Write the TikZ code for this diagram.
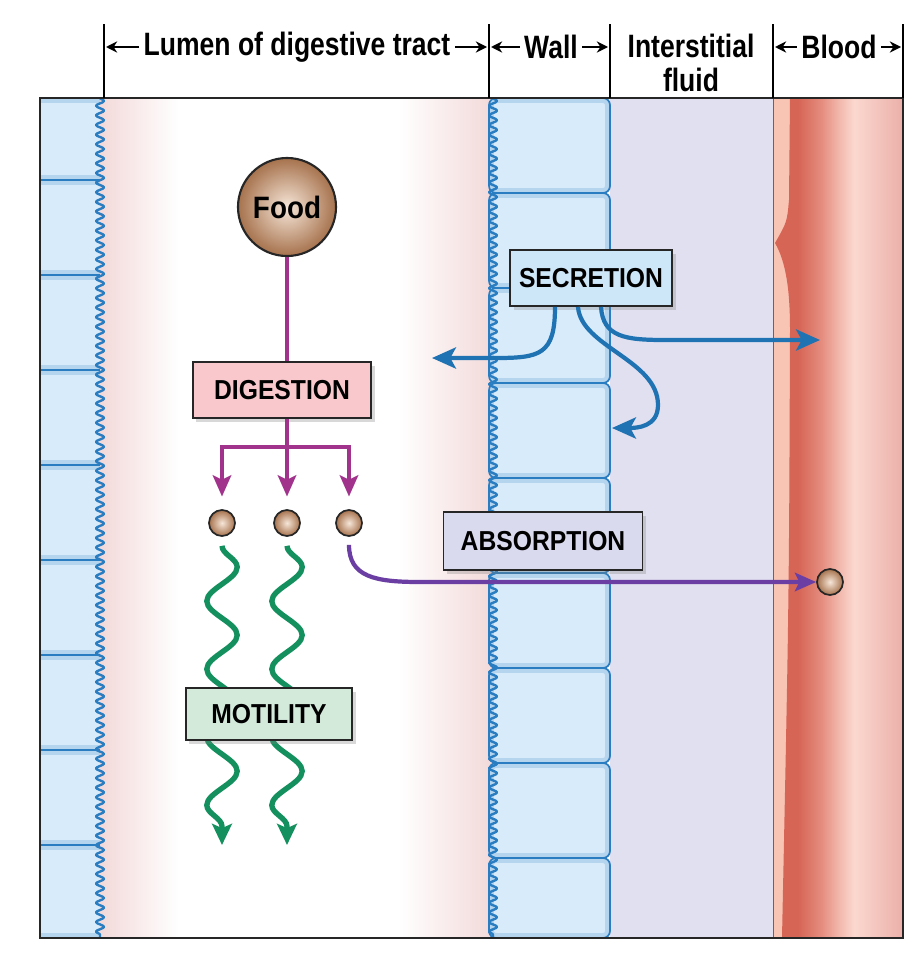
\documentclass[tikz,border=0pt]{standalone}
\usepackage{fontspec}
\setmainfont{Liberation Sans}[FakeStretch=0.9]
\newfontfamily\hdrfont{Liberation Sans}[FakeStretch=0.82]
\usepackage{xcolor}
\usepackage{tikz}
\usetikzlibrary{arrows.meta,calc,decorations.pathmorphing,shadows}
\definecolor{lumenpink}{HTML}{F3D9D9}
\definecolor{cellblue}{HTML}{D8EBFA}
\definecolor{celledge}{HTML}{2A7DC0}
\definecolor{fluidlav}{HTML}{E1E0F0}
\definecolor{bloodsalmon}{HTML}{F8C4B4}
\definecolor{blooddark}{HTML}{D66556}
\definecolor{bloodmid}{HTML}{E48C7E}
\definecolor{bloodpale}{HTML}{F2B8AD}
\definecolor{bloodlight}{HTML}{FBD8CF}
\definecolor{bloodrose}{HTML}{F5C9C1}
\definecolor{bloodright}{HTML}{EBB0A9}
\definecolor{digestpink}{HTML}{F8C8CC}
\definecolor{motilgreen}{HTML}{D3EADB}
\definecolor{absorblav}{HTML}{DADAEE}
\definecolor{secretblue}{HTML}{CDE6F8}
\definecolor{digestline}{HTML}{A2338D}
\definecolor{secretline}{HTML}{1F73B2}
\definecolor{motilline}{HTML}{14905E}
\definecolor{absorbline}{HTML}{6A3EA2}
\definecolor{foodbrown}{HTML}{A6724D}
\definecolor{foodlight}{HTML}{F6E6D8}
\pgfdeclarehorizontalshading{lumenshade}{100bp}{color(0bp)=(lumenpink); color(25bp)=(lumenpink); color(35bp)=(white); color(63bp)=(white); color(75bp)=(lumenpink); color(100bp)=(lumenpink)}
\pgfdeclarehorizontalshading{bloodshade}{100bp}{color(0bp)=(blooddark); color(34bp)=(blooddark); color(43bp)=(bloodmid); color(50bp)=(bloodpale); color(56bp)=(bloodlight); color(63bp)=(bloodrose); color(75bp)=(bloodright); color(100bp)=(bloodright)}

\begin{document}
\begin{tikzpicture}[x=0.025cm, y=-0.025cm,
  wavy/.style={draw=celledge, line width=1.7pt, line join=round, decorate, decoration={snake, segment length=0.24cm, amplitude=0.1cm}},
  cellglow/.style={celledge, line width=7pt, opacity=0.2},
  procbox/.style={draw=black!85, line width=1.3pt, inner sep=0pt, font=\bfseries\fontsize{19.5}{20}\selectfont, drop shadow={opacity=0.3, shadow xshift=2.5pt, shadow yshift=-2.5pt}},
  grain/.style={circle, draw=black!85, line width=1.2pt, minimum size=0.65cm, inner sep=0pt, inner color=foodlight, outer color=foodbrown},
  hdr/.style={font=\hdrfont\bfseries\fontsize{23}{24}\selectfont, inner sep=3pt},
  hdrarrow/.style={-{Stealth[length=8pt, width=8pt]}, line width=1.2pt},
  digestarrow/.style={digestline, line width=2.8pt, -{Stealth[length=15pt, width=13pt, inset=3pt]}, shorten >=9pt},
  secretarrow/.style={secretline, line width=3pt, -{Stealth[length=17pt, width=15pt, inset=4pt]}},
  absorbarrow/.style={absorbline, line width=3pt, -{Stealth[length=15pt, width=13pt, inset=3pt]}},
  motilwave/.style={motilline, line width=3.8pt, decorate, decoration={snake, segment length=1.7cm, amplitude=0.38cm, post length=0.35cm}, -{Stealth[length=15pt, width=14pt, inset=3pt]}}]
\useasboundingbox (0,0) rectangle (924,960);
% tissue bands
\shade[shading=lumenshade] (100,98) rectangle (493,938);
\fill[fluidlav] (610,98) rectangle (773,938);
\fill[bloodsalmon] (773,98) rectangle (903,938);
\shade[shading=bloodshade] (790,98) -- (789,200) .. controls (787,222) .. (775,243) .. controls (786,262) and (790,290) .. (790,330) .. controls (789,600) .. (782,938) -- (903,938) -- (903,98) -- cycle;
\draw[black!60, line width=0.5pt] (773,98) -- (773,938);
% epithelial cells
\fill[cellblue] (40,98) rectangle (100,938);
\foreach \top/\bot in {98/180,180/275,275/370,370/465,465/560,560/655,655/750,750/845,845/938} {
  \begin{scope}
    \clip (40,\top) rectangle (100,\bot);
    \draw[cellglow] (36,\top) rectangle (108,\bot);
  \end{scope}
}
\foreach \y in {180,275,...,845}
  \draw[celledge, line width=1.2pt] (40,\y) -- (100,\y);
\foreach \top/\bot in {98/193,193/288,288/383,383/478,478/573,573/668,668/763,763/858,858/938} {
  \fill[cellblue, rounded corners=5pt] (489,\top) rectangle (610,\bot);
  \begin{scope}
    \clip[rounded corners=5pt] (489,\top) rectangle (610,\bot);
    \draw[cellglow, rounded corners=5pt] (489,\top) rectangle (610,\bot);
  \end{scope}
  \draw[celledge, line width=1.2pt, rounded corners=5pt] (489,\top) rectangle (610,\bot);
}
\draw[wavy] (100,98) -- (100,938);
\draw[wavy] (493,98) -- (493,938);
% frame and header
\draw[line width=1.4pt, black!85] (40,98) rectangle (903,938);
\foreach \x in {104,489,610,773,903}
  \draw[line width=1.2pt] (\x,24) -- (\x,98);
\node[hdr] (hlumen) at (297,47) {Lumen of digestive tract};
\node[hdr] (hwall) at (551,47) {Wall};
\node[hdr, align=center] (hfluid) at (691,63) {Interstitial\\fluid};
\node[hdr] (hblood) at (839,47) {Blood};
\coordinate (lumL) at (106,47);
\coordinate (lumR) at (487,47);
\coordinate (wallL) at (491,47);
\coordinate (wallR) at (608,47);
\coordinate (bldL) at (775,47);
\coordinate (bldR) at (901,47);
\draw[hdrarrow] (hlumen) -- (lumL);
\draw[hdrarrow] (hlumen) -- (lumR);
\draw[hdrarrow] (hwall) -- (wallL);
\draw[hdrarrow] (hwall) -- (wallR);
\draw[hdrarrow] (hblood) -- (bldL);
\draw[hdrarrow] (hblood) -- (bldR);
% digestion
\node[circle, draw=black!85, line width=1.5pt, minimum size=2.45cm, inner color=foodlight, outer color=foodbrown, font=\bfseries\fontsize{22}{24}\selectfont] (food) at (287,207) {Food};
\node[procbox, fill=digestpink, minimum width=4.45cm, minimum height=1.4cm] (digest) at (282,390) {DIGESTION};
\node[grain] (g1) at (222,523) {};
\node[grain] (g2) at (287,523) {};
\node[grain] (g3) at (349,523) {};
\node[grain] (g4) at (830,582) {};
\coordinate (fork) at (287,447);
\draw[digestline, line width=2.8pt] (food) -- (food |- digest.north);
\draw[digestline, line width=2.8pt] (digest.south -| fork) -- (fork);
\draw[digestarrow] (fork) -| (g1);
\draw[digestarrow] (fork) -- (g2);
\draw[digestarrow] (fork) -| (g3);
% motility
\coordinate (m1) at (222,845);
\coordinate (m2) at (287,845);
\draw[motilwave] ($(g1.south)+(0,9)$) -- (m1);
\draw[motilwave] ($(g2.south)+(0,9)$) -- (m2);
\node[procbox, fill=motilgreen, minimum width=4.15cm, minimum height=1.3cm] (motil) at (269,714) {MOTILITY};
% absorption
\draw[absorbarrow] ($(g3.south)+(0,8)$) .. controls +(0,32) and +(-45,0) .. (420,582) -- (g4);
\node[procbox, fill=absorblav, minimum width=4.975cm, minimum height=1.45cm] (absorb) at (543,541) {ABSORPTION};
% secretion
\node[procbox, fill=secretblue, minimum width=4.05cm, minimum height=1.4cm] (secret) at (591,278) {SECRETION};
\coordinate (tolumen) at (432,358);
\coordinate (towall) at (612,428);
\coordinate (toblood) at (820,340);
\draw[secretarrow] ($(secret.south)+(-36,0)$) .. controls +(0,48) and +(45,0) .. (495,358) -- (tolumen);
\draw[secretarrow] ($(secret.south)+(-13,0)$) .. controls +(3,40) and +(0,-45) .. (658,405) .. controls +(0,22) and +(25,0) .. (towall);
\draw[secretarrow] ($(secret.south)+(10,0)$) .. controls +(2,30) and +(-40,0) .. (665,340) -- (toblood);
\end{tikzpicture}
\end{document}
